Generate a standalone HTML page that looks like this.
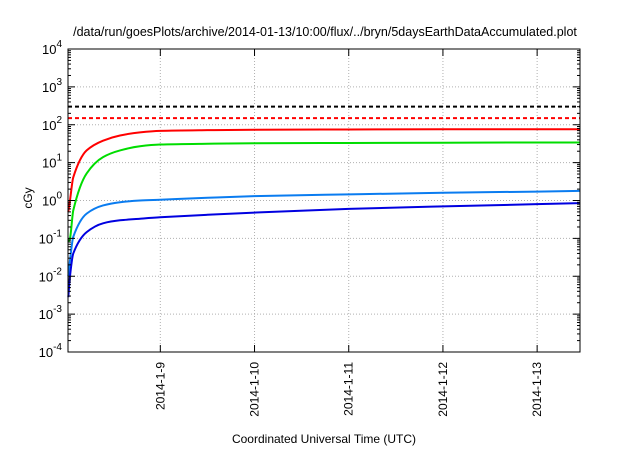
<!DOCTYPE html>
<html><head><meta charset="utf-8"><style>
html,body{margin:0;padding:0;background:#fff;}
svg text{font-family:"Liberation Sans",sans-serif;fill:#000;}
</style></head><body>
<svg id="chart" width="640" height="448" viewBox="0 0 640 448" xmlns="http://www.w3.org/2000/svg">
<text x="325" y="36" font-size="12.5" text-anchor="middle">/data/run/goesPlots/archive/2014-01-13/10:00/flux/../bryn/5daysEarthDataAccumulated.plot</text>
<text x="0" y="0" font-size="12" text-anchor="middle" transform="translate(32,198) rotate(-90)">cGy</text>
<text x="324" y="443" font-size="12" text-anchor="middle">Coordinated Universal Time (UTC)</text>
<g id="grid"></g><g id="series"></g><g id="axes"></g>
</svg>
<script>
const dayTicks = [9, 10, 11, 12, 13];
const dayLabels = ["2014-1-9", "2014-1-10", "2014-1-11", "2014-1-12", "2014-1-13"];
const yExps = [-4, -3, -2, -1, 0, 1, 2, 3, 4];
const tStart = 8.02, tEnd = 13.455;
const times = [8.023, 8.041, 8.076, 8.218, 8.392, 8.572, 8.784, 8.997, 9.5, 10.0, 11.0, 12.0, 13.0, 13.45];
const redValues = [0.5, 1.0, 4.1, 21, 38, 52, 63, 69, 72, 74, 75, 76, 76, 76];
const greenValues = [0.08, 0.1, 0.55, 5.2, 14, 21, 27, 30, 31.5, 32.5, 33, 33.5, 34, 34];
const lightBlueValues = [0.01, 0.026, 0.11, 0.45, 0.74, 0.9, 1.0, 1.05, 1.18, 1.3, 1.45, 1.6, 1.72, 1.8];
const darkBlueValues = [0.0028, 0.01, 0.04, 0.146, 0.25, 0.3, 0.33, 0.36, 0.42, 0.48, 0.6, 0.7, 0.8, 0.85];
const thresholdValues = [300, 150];
const L=68,R=580,T=49,B=352;
const xS=t=>L+(t-tStart)/(tEnd-tStart)*(R-L);
const yS=v=>B-(Math.log10(v)+4)/8*(B-T);
const NS="http://www.w3.org/2000/svg";
function mk(tag,attrs,parent){const e=document.createElementNS(NS,tag);for(const k in attrs)e.setAttribute(k,attrs[k]);parent.appendChild(e);return e;}
const grid=document.getElementById('grid'),ser=document.getElementById('series'),ax=document.getElementById('axes');
yExps.forEach(e=>{const y=yS(Math.pow(10,e));
 if(e>-4&&e<4){const g=mk('line',{x1:L,x2:R,y1:y,y2:y,stroke:'#b0b0b0','stroke-dasharray':'1,2','stroke-width':1},grid);}
 mk('line',{x1:L,x2:L+7,y1:y,y2:y,stroke:'#000'},ax);mk('line',{x1:R,x2:R-7,y1:y,y2:y,stroke:'#000'},ax);
 if(e<4){for(let m=2;m<10;m++){const ym=yS(m*Math.pow(10,e));mk('line',{x1:L,x2:L+3,y1:ym,y2:ym,stroke:'#000'},ax);mk('line',{x1:R,x2:R-3,y1:ym,y2:ym,stroke:'#000'},ax);}}
 const t=mk('text',{x:L-6,y:y+5,'font-size':13,'text-anchor':'end'},ax);
 
 t.innerHTML='10<tspan dy="-7" font-size="10">'+e+'</tspan>';});
dayTicks.forEach((d,i)=>{const x=xS(d);
 const g=mk('line',{x1:x,x2:x,y1:T,y2:B,stroke:'#b0b0b0','stroke-dasharray':'1,2'},grid);
 mk('line',{x1:x,x2:x,y1:B,y2:B-7,stroke:'#000'},ax);mk('line',{x1:x,x2:x,y1:T,y2:T+7,stroke:'#000'},ax);
 const t=mk('text',{x:0,y:0,'font-size':12,'text-anchor':'end',transform:`translate(${x+4},${B+10}) rotate(-90)`},ax);
 t.textContent=dayLabels[i];});
const fr=mk('rect',{x:L,y:T,width:R-L,height:B-T,fill:'none',stroke:'#000','stroke-width':1},ax);

const thColors=['#000','#f00'];
thresholdValues.forEach((v,i)=>{const l=mk('line',{x1:L,x2:R,y1:yS(v),y2:yS(v),stroke:thColors[i],'stroke-width':2,'stroke-dasharray':'4,3'},ser);
 });
function path(vals){
 const xs=times.map(t=>xS(Math.max(tStart,t))),ys=vals.map(yS),n=xs.length;
 const d=[],m=new Array(n);
 for(let i=0;i<n-1;i++)d.push((ys[i+1]-ys[i])/(xs[i+1]-xs[i]));
 m[0]=d[0];m[n-1]=d[n-2];
 for(let i=1;i<n-1;i++){m[i]=(d[i-1]*d[i]<=0)?0:2/(1/d[i-1]+1/d[i]);}
 let s='M'+xs[0]+','+ys[0];
 for(let i=0;i<n-1;i++){const h=xs[i+1]-xs[i];
  s+=' C'+(xs[i]+h/3)+','+(ys[i]+m[i]*h/3)+' '+(xs[i+1]-h/3)+','+(ys[i+1]-m[i+1]*h/3)+' '+xs[i+1]+','+ys[i+1];}
 return s;}
[[redValues,'#f00','red-series'],[greenValues,'#0d0','green-series'],[lightBlueValues,'#0a7cf0','light-blue-series'],[darkBlueValues,'#0000e0','dark-blue-series']].forEach(s=>{
 const p=mk('path',{d:path(s[0]),fill:'none',stroke:s[1],'stroke-width':2},ser);
 
 });
</script>
</body></html>
